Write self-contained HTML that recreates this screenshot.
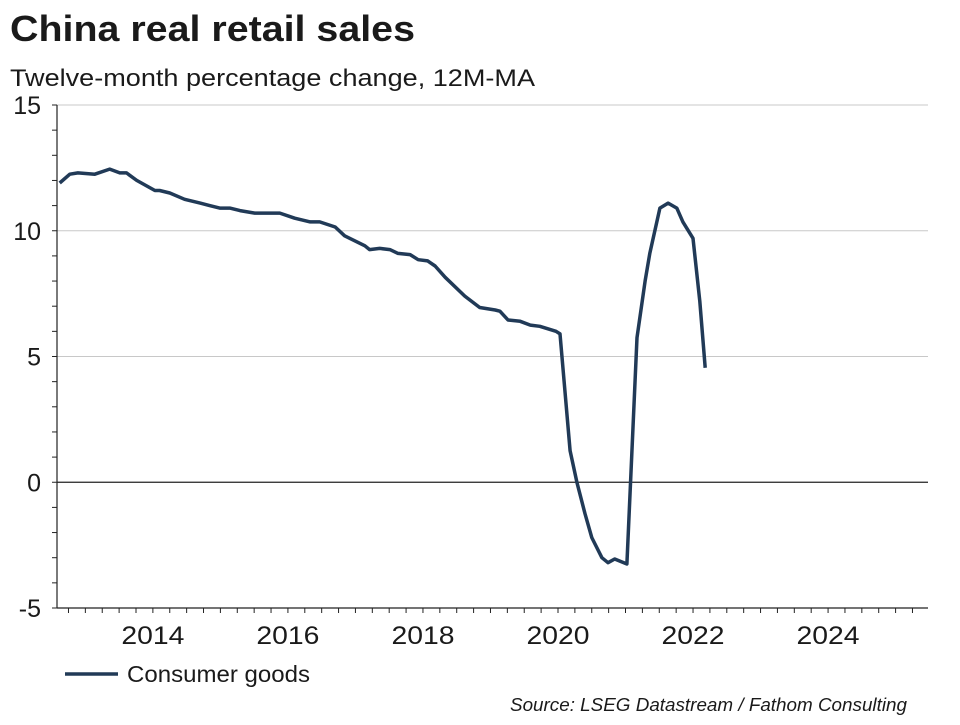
<!DOCTYPE html>
<html><head><meta charset="utf-8"><style>
body{margin:0;background:#fff;font-family:"Liberation Sans",Arial,sans-serif;}
svg text{font-family:"Liberation Sans",Arial,sans-serif;fill:#1a1a1a;}
</style></head><body>
<svg width="960" height="720" viewBox="0 0 960 720">
<text x="10" y="41" font-size="36" font-weight="bold" textLength="405" lengthAdjust="spacingAndGlyphs">China real retail sales</text>
<text x="10" y="86" font-size="24" textLength="525" lengthAdjust="spacingAndGlyphs">Twelve-month percentage change, 12M-MA</text>
<g id="grid"></g><g id="axes"></g>
<path id="line" fill="none" stroke="#213a57" stroke-width="3.5" stroke-linejoin="round"/>
<line x1="65" y1="674" x2="118" y2="674" stroke="#213a57" stroke-width="3.5"/>
<text x="127" y="682" font-size="23" textLength="183" lengthAdjust="spacingAndGlyphs">Consumer goods</text>
<text x="907" y="711" font-size="18" font-style="italic" text-anchor="end" textLength="397" lengthAdjust="spacingAndGlyphs">Source: LSEG Datastream / Fathom Consulting</text>
</svg>
<script>
const dates=[2012.62,2012.77,2012.89,2013.14,2013.36,2013.51,2013.61,2013.76,2014.03,2014.10,2014.25,2014.47,2014.70,2014.84,2014.99,2015.14,2015.29,2015.51,2015.88,2016.10,2016.33,2016.47,2016.70,2016.84,2017.14,2017.21,2017.36,2017.51,2017.63,2017.81,2017.93,2018.07,2018.18,2018.33,2018.62,2018.84,2019.07,2019.14,2019.26,2019.44,2019.59,2019.73,2019.97,2020.03,2020.18,2020.28,2020.40,2020.50,2020.65,2020.74,2020.84,2021.02,2021.17,2021.29,2021.36,2021.51,2021.63,2021.76,2021.85,2022.00,2022.10,2022.18];
const values=[11.9,12.25,12.3,12.25,12.45,12.3,12.3,12.0,11.6,11.6,11.5,11.25,11.1,11.0,10.9,10.9,10.8,10.7,10.7,10.5,10.35,10.35,10.15,9.8,9.4,9.25,9.3,9.25,9.1,9.05,8.85,8.8,8.6,8.15,7.4,6.95,6.85,6.8,6.45,6.4,6.25,6.2,6.0,5.9,1.25,0,-1.25,-2.2,-3.0,-3.2,-3.05,-3.25,5.75,8.0,9.1,10.9,11.1,10.9,10.35,9.7,7.2,4.55];
const yTicks=[-5,0,5,10,15];
const xTicks=[2014,2016,2018,2020,2022,2024];
const X0=57,X1=928,Y0=608,Y1=105,XMIN=2012.58,XMAX=2025.48,YMIN=-5,YMAX=15;
const xs=t=>X0+(t-XMIN)/(XMAX-XMIN)*(X1-X0);
const ys=v=>Y0-(v-YMIN)/(YMAX-YMIN)*(Y0-Y1);
const NS="http://www.w3.org/2000/svg";
const grid=document.getElementById('grid'),axes=document.getElementById('axes');
function mk(tag,at,parent){const e=document.createElementNS(NS,tag);for(const k in at)e.setAttribute(k,at[k]);parent.appendChild(e);return e;}
yTicks.forEach(v=>{
  if(v>YMIN){const l=mk('line',{x1:X0,x2:X1,y1:ys(v),y2:ys(v),stroke:v===0?'#222':'#c8c8c8','stroke-width':v===0?1.2:1},grid);
  
  }
  const t=mk('text',{x:41,y:ys(v)+9,'font-size':25,'text-anchor':'end'},axes);t.textContent=v;
  
  
});
for(let v=YMIN;v<=YMAX;v++){const l=mk('line',{x1:X0-5,x2:X0,y1:ys(v),y2:ys(v),stroke:'#222','stroke-width':1},axes);
  
  }
for(let t=2012.75;t<XMAX;t+=0.25){const l=mk('line',{x1:xs(t),x2:xs(t),y1:Y0,y2:Y0+5,stroke:'#222','stroke-width':1},axes);
  
  }
xTicks.forEach(t=>{const e=mk('text',{x:xs(t),y:644,'font-size':25,'text-anchor':'middle',textLength:63,lengthAdjust:'spacingAndGlyphs'},axes);e.textContent=t;
  
  });
let a=mk('line',{x1:X0,x2:X0,y1:Y1,y2:Y0,stroke:'#222','stroke-width':1.2},axes);


a=mk('line',{x1:X0,x2:X1,y1:Y0,y2:Y0,stroke:'#222','stroke-width':1.2},axes);


document.getElementById('line').setAttribute('d',dates.map((t,i)=>(i?'L':'M')+xs(t).toFixed(1)+','+ys(values[i]).toFixed(1)).join(''));
</script>
</body></html>
